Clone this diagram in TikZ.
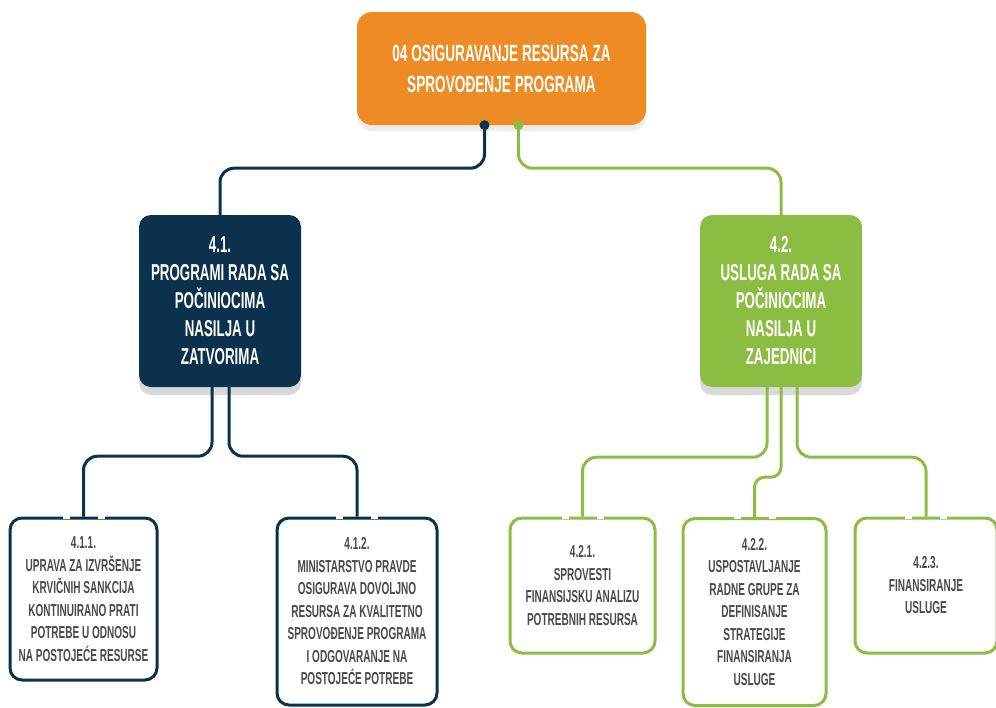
\documentclass[tikz,border=0pt]{standalone}
\usepackage{fontspec}
\setmainfont{Liberation Sans}[FakeStretch=0.58]
\usetikzlibrary{shadows}

\definecolor{orangetop}{HTML}{EE8B24}
\definecolor{navybox}{HTML}{0B314D}
\definecolor{greenbox}{HTML}{8CBD43}
\definecolor{graytext}{HTML}{4A4A4A}

\tikzset{
  every picture/.style={/utils/exec={\bfseries}},
  topbox/.style={fill=orangetop, text=white, rounded corners=15pt,
    minimum width=289pt, minimum height=113pt, align=center,
    font=\fontsize{23.5}{31}\selectfont,
    drop shadow={opacity=0.15, shadow xshift=0pt, shadow yshift=-6pt}},
  midbox/.style={rounded corners=12pt, text=white, minimum width=162pt,
    minimum height=172pt, align=center, font=\fontsize{23}{28}\selectfont,
    drop shadow={opacity=0.3, shadow xshift=0pt, shadow yshift=-8pt}},
  leafbox/.style={draw, fill=white, line width=3pt, rounded corners=12pt,
    align=center, text=graytext, font=\fontsize{17.3}{22.5}\selectfont},
  navyline/.style={navybox, line width=3pt, rounded corners=14pt},
  greenline/.style={greenbox, line width=3pt, rounded corners=14pt},
}

\begin{document}
\begin{tikzpicture}[x=1pt, y=-1pt]
  \useasboundingbox (0,0) rectangle (996,707);

  \node [topbox] (top) at (501.5,68.5)
    {04 OSIGURAVANJE RESURSA ZA\\SPROVOĐENJE PROGRAMA};

  \node [midbox, fill=navybox] (prog) at (220,301)
    {4.1.\\PROGRAMI RADA SA\\POČINIOCIMA\\NASILJA U\\ZATVORIMA};
  \node [midbox, fill=greenbox] (usl) at (781,301)
    {4.2.\\USLUGA RADA SA\\POČINIOCIMA\\NASILJA U\\ZAJEDNICI};

  % first level connectors
  \draw [navyline] ([xshift=-17pt]top.south) -- ++(0,43) -| (prog.north);
  \draw [greenline] ([xshift=17pt]top.south) -- ++(0,43) -| (usl.north);
  \fill [navybox] ([xshift=-17pt]top.south) circle (5pt);
  \fill [greenbox] ([xshift=17pt]top.south) circle (5pt);

  \begin{scope}[every node/.style={leafbox}]
    \node [draw=navybox, minimum width=147pt, minimum height=162pt] (upr) at (83.5,599)
      {4.1.1.\\UPRAVA ZA IZVRŠENJE\\KRVIČNIH SANKCIJA\\KONTINUIRANO PRATI\\POTREBE U ODNOSU\\NA POSTOJEĆE RESURSE};
    \node [draw=navybox, minimum width=160pt, minimum height=187pt] (min) at (357,611.5)
      {4.1.2.\\MINISTARSTVO PRAVDE\\OSIGURAVA DOVOLJNO\\RESURSA ZA KVALITETNO\\SPROVOĐENJE PROGRAMA\\I ODGOVARANJE NA\\POSTOJEĆE POTREBE};

    \node [draw=greenbox, minimum width=145pt, minimum height=135pt] (anal) at (582.5,585.5)
      {4.2.1.\\SPROVESTI\\FINANSIJSKU ANALIZU\\POTREBNIH RESURSA};
    \node [draw=greenbox, minimum width=143pt, minimum height=187pt] (grupa) at (754.5,612)
      {4.2.2.\\USPOSTAVLJANJE\\RADNE GRUPE ZA\\DEFINISANJE\\STRATEGIJE\\FINANSIRANJA\\USLUGE};
    \node [draw=greenbox, minimum width=142pt, minimum height=135pt] (fin) at (926,585.5)
      {4.2.3.\\FINANSIRANJE\\USLUGE};
  \end{scope}

  % second level connectors
  \draw [navyline] ([xshift=-8pt]prog.south) -- ++(0,69) -| (upr.north);
  \draw [navyline] ([xshift=9pt]prog.south) -- ++(0,69) -| (min.north);

  \draw [greenline] ([xshift=-14pt]usl.south) -- ++(0,70) -| (anal.north);
  \draw [greenline, rounded corners=10pt] (usl.south) -- ++(0,90) -| (grupa.north);
  \draw [greenline] ([xshift=16pt]usl.south) -- ++(0,70) -| (fin.north);

  % breaks in the top borders
  \foreach \n in {upr,min,anal,grupa,fin} {
    \draw [white, line width=4pt] ([xshift=-21pt]\n.north) -- ([xshift=-14pt]\n.north);
    \draw [white, line width=4pt] ([xshift=14pt]\n.north) -- ([xshift=21pt]\n.north);
  }
\end{tikzpicture}
\end{document}
